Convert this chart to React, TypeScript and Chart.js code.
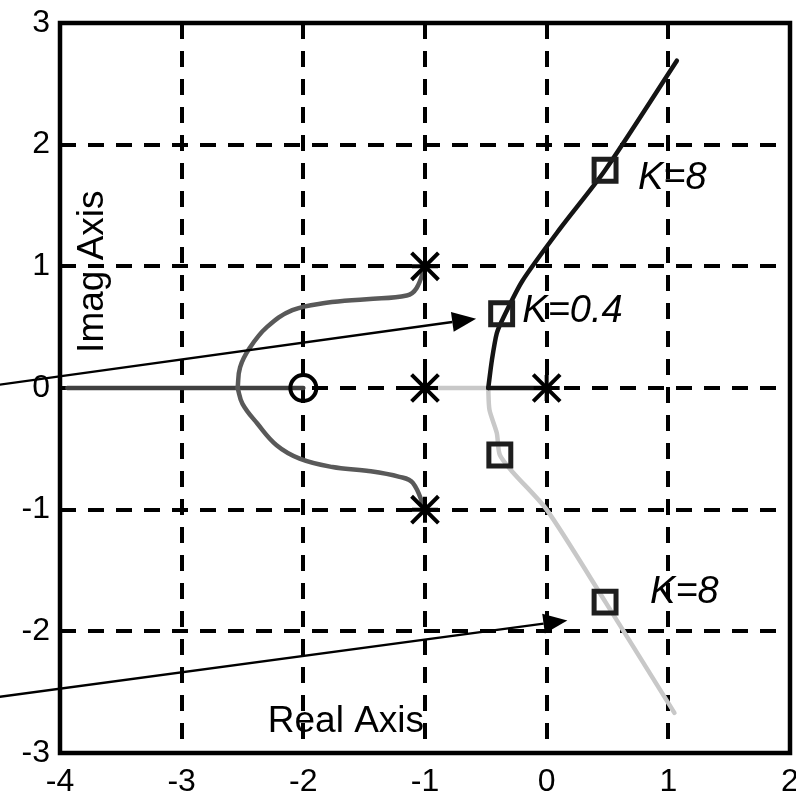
import React, { useEffect, useRef } from "react";
import { Chart, registerables } from "chart.js";

Chart.register(...registerables);

// ---- data ----
const xTickRange = [-4, 2];
const yTickRange = [-3, 3];

const realAxisLeftBranch = [[-3.94, 0], [-2, 0]];
const realAxisPoleGray = [[-1, 0], [-0.48, 0]];
const realAxisPoleBlack = [[-0.48, 0], [0, 0]];

const upperComplexBranch = [
  [-1, 1], [-1.07, 0.82], [-1.15, 0.76], [-1.48, 0.73], [-1.81, 0.7],
  [-2.09, 0.64], [-2.3, 0.5], [-2.44, 0.33], [-2.52, 0.17], [-2.54, 0],
];
const lowerComplexBranch = [
  [-1, -1], [-1.1, -0.78], [-1.21, -0.73], [-1.48, -0.68], [-1.76, -0.65],
  [-2.03, -0.58], [-2.22, -0.47], [-2.38, -0.29], [-2.5, -0.13], [-2.54, 0],
];
const upperBreakawayBranch = [
  [-0.48, 0], [-0.45, 0.23], [-0.41, 0.45], [-0.36, 0.57], [-0.2, 0.88],
  [0.11, 1.31], [0.48, 1.79], [1.07, 2.69],
];
const lowerBreakawayBranch = [
  [-0.48, 0], [-0.47, -0.18], [-0.41, -0.37], [-0.385, -0.55], [-0.28, -0.69],
  [0.0, -1.0], [0.49, -1.77], [1.05, -2.67],
];

const poles = [[-1, 1], [-1, 0], [-1, -1], [0, 0]];
const zeros = [[-2, 0]];
const gainSquares = [[0.48, 1.79], [-0.37, 0.61], [-0.385, -0.55], [0.48, -1.76]];

const arrowStarts = [[-4.55, 0.02], [-4.55, -2.545]];
const arrowTips = [[-0.58, 0.57], [0.17, -1.91]];

const gainLabels = ["K=8", "K=0.4", "K=8"];
const gainLabelPos = [[0.75, 1.72], [-0.2, 0.63], [0.85, -1.68]];

const axisTitleReal = "Real Axis";
const axisTitleReal_pos = [-1.65, -2.83];
const axisTitleImag = "Imag Axis";
const axisTitleImag_pos = [-3.647, 0.956];

const FONT = "'Liberation Sans', Arial, Helvetica, sans-serif";
const CANVAS_W = 813;
const CANVAS_H = 796;

const pts = (a: number[][]) => a.map(([x, y]) => ({ x, y }));

const overlayPlugin = {
  id: "overlay",
  afterDatasetsDraw(chart: any) {
    const { ctx, chartArea: a } = chart;
    const xs = chart.scales.x;
    const ys = chart.scales.y;
    const px = (v: number) => xs.getPixelForValue(v);
    const py = (v: number) => ys.getPixelForValue(v);
    ctx.save();
    // frame
    ctx.strokeStyle = "#000";
    ctx.lineWidth = 4.5;
    ctx.setLineDash([]);
    ctx.strokeRect(a.left, a.top, a.right - a.left, a.bottom - a.top);

    // arrows
    for (let i = 0; i < arrowStarts.length; i++) {
      const x0 = px(arrowStarts[i][0]);
      const y0 = py(arrowStarts[i][1]);
      const x1 = px(arrowTips[i][0]);
      const y1 = py(arrowTips[i][1]);
      const ang = Math.atan2(y1 - y0, x1 - x0);
      const L = 24;
      const W = 10;
      const bx = x1 - L * Math.cos(ang);
      const by = y1 - L * Math.sin(ang);
      ctx.strokeStyle = "#000";
      ctx.lineWidth = 2.4;
      ctx.beginPath();
      ctx.moveTo(x0, y0);
      ctx.lineTo(bx, by);
      ctx.stroke();
      ctx.fillStyle = "#000";
      ctx.beginPath();
      ctx.moveTo(x1, y1);
      ctx.lineTo(bx + W * Math.sin(ang), by - W * Math.cos(ang));
      ctx.lineTo(bx - W * Math.sin(ang), by + W * Math.cos(ang));
      ctx.closePath();
      ctx.fill();
    }

    // gain labels
    ctx.fillStyle = "#000";
    ctx.font = `italic 38px ${FONT}`;
    ctx.textAlign = "left";
    ctx.textBaseline = "middle";
    for (let i = 0; i < gainLabels.length; i++) {
      ctx.fillText(gainLabels[i], px(gainLabelPos[i][0]), py(gainLabelPos[i][1]));
    }

    // axis titles
    ctx.font = `37px ${FONT}`;
    ctx.textAlign = "center";
    ctx.textBaseline = "alphabetic";
    ctx.fillText(axisTitleReal, px(axisTitleReal_pos[0]), py(axisTitleReal_pos[1]));
    ctx.translate(px(axisTitleImag_pos[0]), py(axisTitleImag_pos[1]));
    ctx.rotate(-Math.PI / 2);
    ctx.fillText(axisTitleImag, 0, 0);
    ctx.restore();
  },
};

export default function App() {
  const ref = useRef<HTMLCanvasElement | null>(null);
  useEffect(() => {
    document.body.style.margin = "0";
    document.body.style.overflow = "hidden";
    const canvas = ref.current;
    if (!canvas) return;
    const line = (data: number[][], color: string, width = 4.5, tension = 0.4) => ({
      type: "scatter" as const,
      data: pts(data),
      showLine: true,
      borderColor: color,
      borderWidth: width,
      pointRadius: 0,
      tension,
      fill: false,
      borderCapStyle: "round" as const,
      borderJoinStyle: "round" as const,
    });
    const chart = new Chart(canvas, {
      type: "scatter",
      data: {
        datasets: [
          {
            data: pts(gainSquares),
            pointStyle: "rect",
            pointRadius: 15.5,
            pointBorderWidth: 5,
            pointBorderColor: "#1e1e1e",
            pointBackgroundColor: "rgba(0,0,0,0)",
            showLine: false,
          },
          {
            data: pts(poles),
            pointStyle: "crossRot",
            pointRadius: 19,
            pointBorderWidth: 4,
            pointBorderColor: "#000",
            showLine: false,
          },
          {
            data: pts(poles),
            pointStyle: "cross",
            pointRadius: 13,
            pointBorderWidth: 4,
            pointBorderColor: "#000",
            showLine: false,
          },
          {
            data: pts(zeros),
            pointStyle: "circle",
            pointRadius: 13,
            pointBorderWidth: 4,
            pointBorderColor: "#000",
            pointBackgroundColor: "rgba(0,0,0,0)",
            showLine: false,
          },
          line(upperBreakawayBranch, "#141414", 4.5, 0.25),
          line(realAxisPoleBlack, "#141414"),
          line(lowerBreakawayBranch, "#c8c8c8", 4.5, 0.25),
          line(realAxisPoleGray, "#c8c8c8"),
          line(upperComplexBranch, "#595959"),
          line(lowerComplexBranch, "#595959"),
          line(realAxisLeftBranch, "#404040"),
        ] as any,
      },
      options: {
        animation: false,
        responsive: false,
        devicePixelRatio: 1,
        layout: { padding: { left: 0, right: 6, top: 22, bottom: 0 } },
        plugins: { legend: { display: false }, tooltip: { enabled: false } },
        scales: {
          x: {
            type: "linear",
            min: xTickRange[0],
            max: xTickRange[1],
            ticks: {
              stepSize: 1,
              color: "#000",
              font: { family: FONT, size: 32 },
              padding: 10,
              maxRotation: 0,
              autoSkip: false,
            },
            grid: { color: "#000", lineWidth: 4, drawTicks: false, tickLength: 0 },
            border: { display: false, dash: [16, 12] },
            afterFit(s: any) {
              s.height = 43;
            },
          },
          y: {
            type: "linear",
            min: yTickRange[0],
            max: yTickRange[1],
            ticks: {
              stepSize: 1,
              color: "#000",
              font: { family: FONT, size: 32 },
              padding: 10,
              autoSkip: false,
            },
            grid: { color: "#000", lineWidth: 4, drawTicks: false, tickLength: 0 },
            border: { display: false, dash: [16, 12] },
            afterFit(s: any) {
              s.width = 60;
              s.paddingTop = 0;
              s.paddingBottom = 0;
            },
          },
        },
      } as any,
      plugins: [overlayPlugin],
    });
    return () => chart.destroy();
  }, []);
  return (
    <div style={{ width: 796, height: 796, overflow: "hidden", background: "#fff" }}>
      <canvas ref={ref} width={CANVAS_W} height={CANVAS_H} style={{ display: "block" }} />
    </div>
  );
}
